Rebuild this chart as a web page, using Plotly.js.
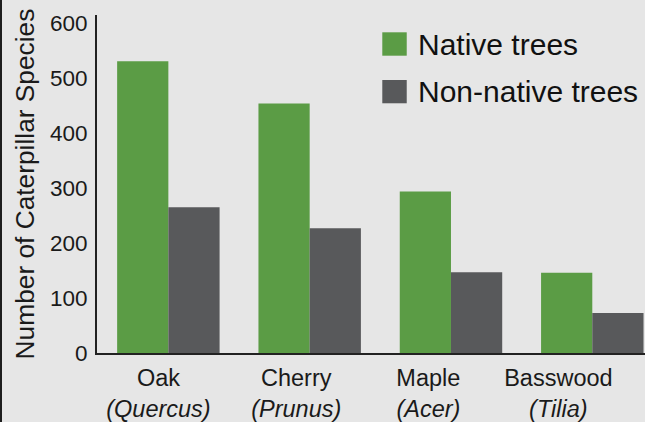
<!DOCTYPE html>
<html>
<head>
<meta charset="utf-8">
<script src="https://cdn.plot.ly/plotly-3.0.1.min.js"></script>
<style>
  html, body { margin: 0; padding: 0; background: #e6e6e6; }
  #chart { width: 643px; height: 422px; border-left: 2px solid #1e1e1e; }
</style>
</head>
<body>
<div id="chart"></div>
<script>
// ---- data ----
const categories = ["Oak", "Cherry", "Maple", "Basswood"];
const genera = ["Quercus", "Prunus", "Acer", "Tilia"];
const nativeTrees = [531, 454, 294, 146];
const nonNativeTrees = [265, 227, 147, 73];
const seriesNames = ["Native trees", "Non-native trees"];
const yTicks = [0, 100, 200, 300, 400, 500, 600];

// ---- style ----
const GREEN = "#5b9c45";
const GRAY = "#58595b";
const BG = "#e6e6e6";
const FONT = "'Liberation Sans', Arial, sans-serif";
const labelShift = [-0.07, -0.095, -0.16, -0.24];

const xIdx = categories.map((c, i) => i);

const traces = [
  { type: "bar", name: seriesNames[0], x: xIdx, y: nativeTrees,
    marker: { color: GREEN }, hoverinfo: "none" },
  { type: "bar", name: seriesNames[1], x: xIdx, y: nonNativeTrees,
    marker: { color: GRAY }, hoverinfo: "none" }
];

const layout = {
  width: 643, height: 422,
  margin: { l: 95, r: 0, t: 15, b: 69, pad: 0 },
  paper_bgcolor: BG, plot_bgcolor: BG,
  font: { family: FONT, color: "#1a1a1a" },
  showlegend: false,
  barmode: "group", bargap: 0.275, bargroupgap: 0,
  xaxis: {
    range: [-0.505, 3.373],
    tickmode: "array",
    tickvals: xIdx.map((v, i) => v + labelShift[i]),
    ticktext: categories.map((c, i) => c + "<br><i>(" + genera[i] + ")</i>"),
    tickfont: { size: 23.5, family: FONT, color: "#1a1a1a" },
    ticks: "", showgrid: false, zeroline: false,
    showline: true, linecolor: "#222", linewidth: 2,
    ticklabelstandoff: 3, fixedrange: true
  },
  yaxis: {
    range: [0, 615],
    tickmode: "array", tickvals: yTicks, ticktext: yTicks.map(String),
    tickfont: { size: 22.5, family: FONT, color: "#1a1a1a" },
    ticks: "", showgrid: false, zeroline: false,
    showline: true, linecolor: "#222", linewidth: 2,
    ticklabelstandoff: 3,
    title: { text: "Number of Caterpillar Species", font: { size: 26.3, family: FONT, color: "#1a1a1a" }, standoff: 8 },
    fixedrange: true
  },
  shapes: [
    { type: "rect", xref: "paper", yref: "paper", x0: 0.5206, x1: 0.5652, y0: 0.8796, y1: 0.9488,
      fillcolor: GREEN, line: { width: 0 } },
    { type: "rect", xref: "paper", yref: "paper", x0: 0.5206, x1: 0.5652, y0: 0.7388, y1: 0.8077,
      fillcolor: GRAY, line: { width: 0 } }
  ],
  annotations: [
    { xref: "paper", yref: "paper", x: 0.5821, y: 0.9142, xanchor: "left", yanchor: "middle",
      text: seriesNames[0], showarrow: false, font: { size: 30, family: FONT, color: "#111" } },
    { xref: "paper", yref: "paper", x: 0.5821, y: 0.7737, xanchor: "left", yanchor: "middle",
      text: seriesNames[1], showarrow: false, font: { size: 30, family: FONT, color: "#111" } }
  ]
};

Plotly.newPlot("chart", traces, layout, { displayModeBar: false, staticPlot: true });
</script>
</body>
</html>
